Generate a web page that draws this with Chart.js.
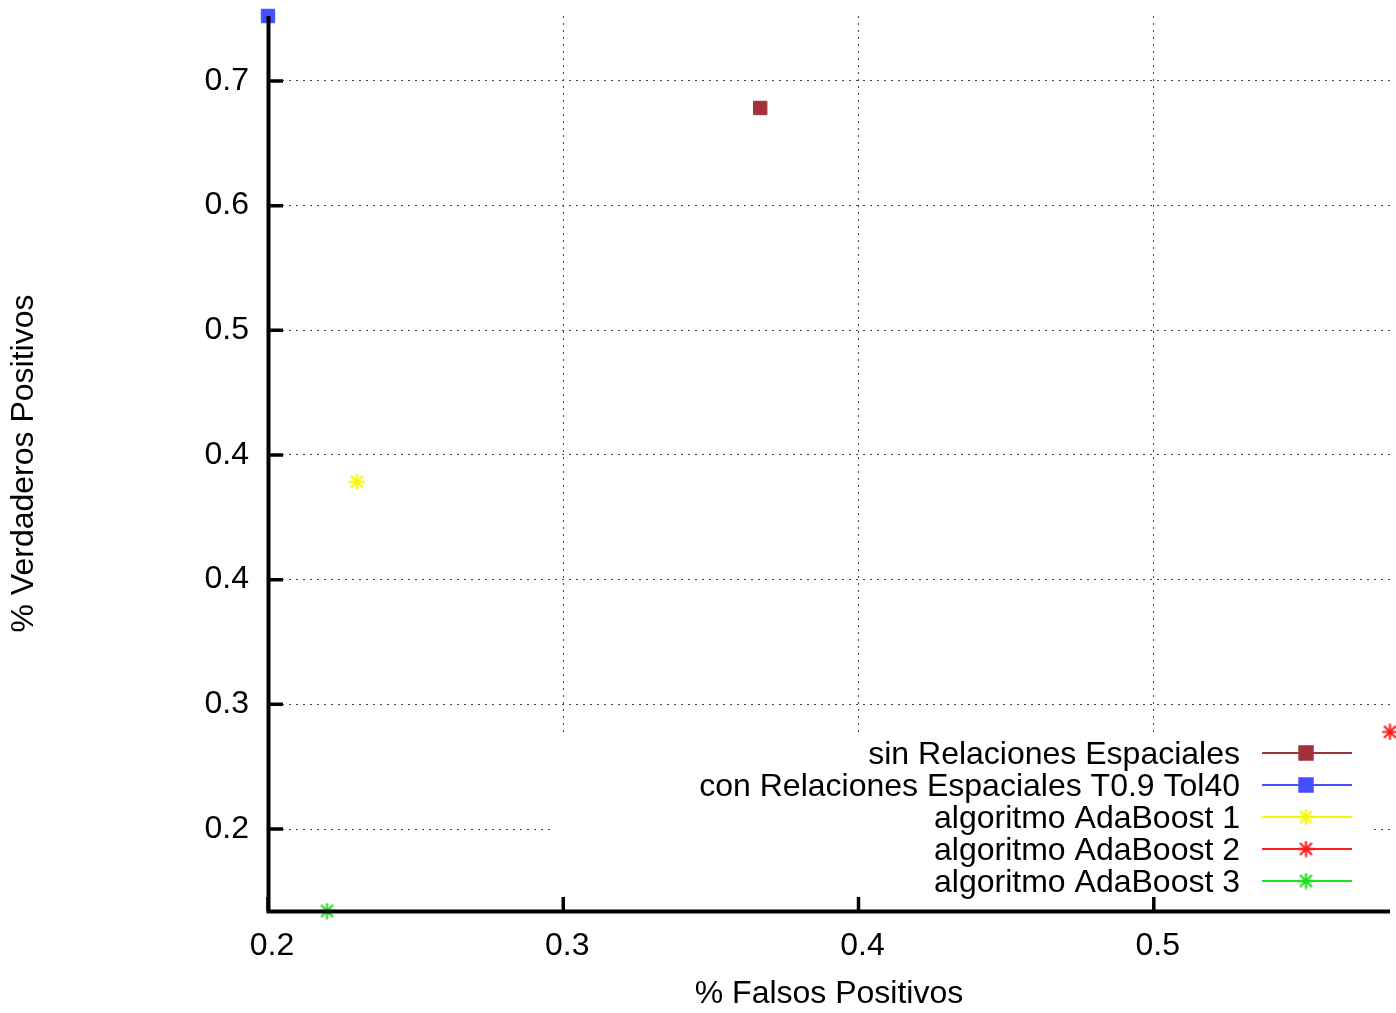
<!DOCTYPE html>
<html lang="es">
<head>
<meta charset="UTF-8">
<title>% Verdaderos Positivos vs % Falsos Positivos</title>
<script src="https://cdn.jsdelivr.net/npm/chart.js"></script>
<style>
  body { margin: 0; background: #fff; }
  canvas { display: block; }
</style>
</head>
<body>
<canvas id="rocChart" width="1396" height="1013"></canvas>
<script>
// valores
const seriesLabels = [
    'sin Relaciones Espaciales',
    'con Relaciones Espaciales T0.9 Tol40',
    'algoritmo AdaBoost 1',
    'algoritmo AdaBoost 2',
    'algoritmo AdaBoost 3'
];
const falsosPositivos = [0.3667, 0.2, 0.2301, 0.58, 0.22];
const verdaderosPositivos = [0.6816, 0.7443, 0.4267, 0.2562, 0.1341];

const xTickValues = [0.2, 0.3, 0.4, 0.5];
const xTickLabels = ['0.2', '0.3', '0.4', '0.5'];
const yTickValues = [0.19, 0.275, 0.36, 0.445, 0.53, 0.615, 0.7];
const yTickLabels = ['0.2', '0.3', '0.4', '0.4', '0.5', '0.6', '0.7'];

const seriesColors = ['#a2323a', '#4450ff', '#f8f800', '#ff1c1c', '#1ee01e'];
const seriesMarkers = ['rect', 'rect', 'star', 'star', 'star'];

const FONT = { family: '"Liberation Sans", Arial, Helvetica, sans-serif', size: 32 };

// asterisco de gnuplot: cruz + aspa hasta las esquinas
function starImage(color) {
    const c = document.createElement('canvas');
    c.width = 17; c.height = 17;
    const g = c.getContext('2d');
    g.strokeStyle = color;
    g.lineWidth = 2.2;
    g.beginPath();
    g.moveTo(0.5, 8.5); g.lineTo(16.5, 8.5);
    g.moveTo(8.5, 0.5); g.lineTo(8.5, 16.5);
    g.moveTo(2.5, 2.5); g.lineTo(14.5, 14.5);
    g.moveTo(14.5, 2.5); g.lineTo(2.5, 14.5);
    g.stroke();
    return c;
}

function markerOpts(i) {
    if (seriesMarkers[i] === 'rect') {
        return { pointStyle: 'rect', radius: 9.5, borderWidth: 1, rotation: 0 };
    }
    return { pointStyle: starImage(seriesColors[i]), radius: 8, borderWidth: 0, rotation: 0 };
}
const markers = seriesLabels.map((l, i) => markerOpts(i));

// ejes, marcas hacia dentro y leyenda al estilo gnuplot
const gnuplotFrame = {
    id: 'gnuplotFrame',
    beforeDatasetsDraw(chart) {
        const ctx = chart.ctx;
        ctx.save();
        ctx.fillStyle = '#fff';
        ctx.fillRect(552, 737, 818, 160);
        ctx.restore();
    },
    afterDatasetsDraw(chart) {
        const ctx = chart.ctx;
        const area = chart.chartArea;
        const xs = chart.scales.x, ys = chart.scales.y;
        ctx.save();

        // leyenda
        ctx.font = FONT.size + 'px ' + FONT.family;
        ctx.textAlign = 'right';
        ctx.textBaseline = 'middle';
        chart.data.datasets.forEach((ds, i) => {
            const y = 753 + 32 * i;
            ctx.fillStyle = '#000';
            ctx.fillText(ds.label, 1240, y + 2);
            ctx.strokeStyle = seriesColors[i];
            ctx.lineWidth = 2;
            ctx.beginPath();
            ctx.moveTo(1262, y);
            ctx.lineTo(1352, y);
            ctx.stroke();
            ctx.fillStyle = seriesColors[i];
            Chart.helpers.drawPoint(ctx, markers[i], 1306, y);
        });

        // ejes
        ctx.strokeStyle = '#000';
        ctx.lineWidth = 4;
        ctx.beginPath();
        ctx.moveTo(area.left + 0.5, area.top);
        ctx.lineTo(area.left + 0.5, area.bottom + 2.5);
        ctx.moveTo(area.left - 1.5, area.bottom + 0.5);
        ctx.lineTo(area.right, area.bottom + 0.5);
        ctx.stroke();

        ctx.lineWidth = 3.5;
        ctx.beginPath();
        yTickValues.forEach(v => {
            const py = ys.getPixelForValue(v);
            ctx.moveTo(area.left, py);
            ctx.lineTo(area.left + 15, py);
        });
        xTickValues.forEach(v => {
            const px = xs.getPixelForValue(v);
            ctx.moveTo(px, area.bottom);
            ctx.lineTo(px, area.bottom - 14);
        });
        ctx.stroke();
        ctx.restore();
    }
};

const datasets = seriesLabels.map((label, i) => ({
    label: label,
    data: [{ x: falsosPositivos[i], y: verdaderosPositivos[i] }],
    pointStyle: markers[i].pointStyle,
    pointRadius: markers[i].radius,
    pointBorderWidth: markers[i].borderWidth,
    backgroundColor: seriesColors[i],
    borderColor: seriesColors[i],
    showLine: false,
    clip: false
}));

new Chart(document.getElementById('rocChart'), {
    type: 'scatter',
    data: { datasets: datasets },
    plugins: [gnuplotFrame],
    options: {
        responsive: false,
        animation: false,
        devicePixelRatio: 1,
        events: [],
        layout: { autoPadding: false, padding: { left: 0, top: 16, right: 6, bottom: 0 } },
        plugins: { legend: { display: false }, tooltip: { enabled: false } },
        scales: {
            x: {
                type: 'linear',
                min: Math.min(...falsosPositivos),
                max: Math.max(...falsosPositivos),
                afterBuildTicks: s => { s.ticks = xTickValues.map(v => ({ value: v })); },
                afterFit: s => { s.height = 102; s.paddingLeft = 0; s.paddingRight = 0; },
                grid: { color: '#444', lineWidth: 1, drawTicks: false },
                border: { display: false, dash: [2, 5] },
                ticks: {
                    font: FONT, color: '#000', padding: 16, labelOffset: 4,
                    maxRotation: 0, autoSkip: false,
                    callback: (v, i) => xTickLabels[i]
                },
                title: {
                    display: true, text: '% Falsos Positivos', font: FONT, color: '#000',
                    padding: { top: 0, bottom: 0 }
                }
            },
            y: {
                type: 'linear',
                min: Math.min(...verdaderosPositivos),
                max: Math.max(...verdaderosPositivos),
                afterBuildTicks: s => { s.ticks = yTickValues.map(v => ({ value: v })); },
                afterFit: s => { s.width = 268; s.paddingTop = 0; s.paddingBottom = 0; },
                grid: { color: '#444', lineWidth: 1, drawTicks: false },
                border: { display: false, dash: [2, 5] },
                ticks: {
                    font: FONT, color: '#000', padding: 19, autoSkip: false,
                    callback: (v, i) => yTickLabels[i]
                },
                title: {
                    display: true, text: '% Verdaderos Positivos', font: FONT, color: '#000',
                    padding: { top: 5, bottom: 0 }
                }
            }
        }
    }
});
</script>
</body>
</html>
